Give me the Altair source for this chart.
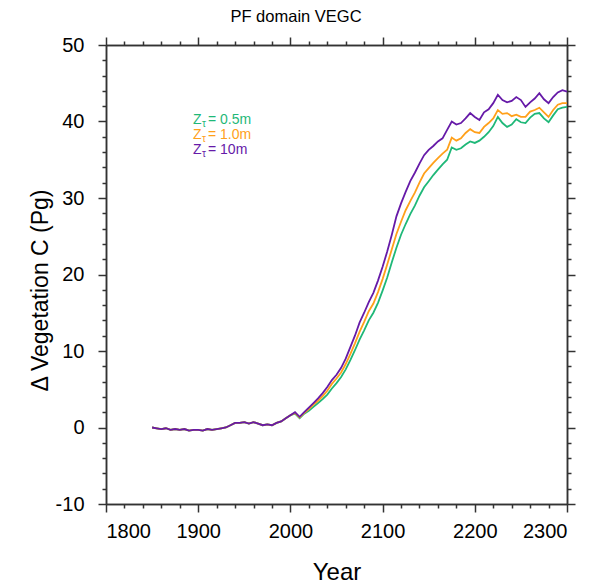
import altair as alt
import pandas as pd

years = list(range(1850, 2301, 5))

# shared pre-2000 segment (all three runs overlap)
early = [0.0, -0.1, -0.2, -0.1, -0.3, -0.2, -0.3, -0.2, -0.4, -0.3,
         -0.3, -0.4, -0.2, -0.3, -0.2, -0.1, 0.0, 0.3, 0.6, 0.6,
         0.7, 0.5, 0.7, 0.5, 0.3, 0.4, 0.3, 0.6, 0.8, 1.2, 1.6]

# 2005 .. 2300
green_late = [1.8, 1.2, 1.8, 2.2, 2.7, 3.2, 3.7, 4.3, 5.1, 5.8,
              6.6, 7.6, 8.8, 10.1, 11.5, 12.7, 14.0, 15.0, 16.3, 17.9,
              19.6, 21.6, 23.5, 25.2, 26.6, 27.9, 29.0, 30.3, 31.4, 32.2,
              33.0, 33.7, 34.4, 35.0, 36.6, 36.3, 36.5, 37.0, 37.4, 37.2,
              37.5, 38.0, 38.6, 39.4, 40.6, 39.8, 39.3, 39.6, 40.3, 39.9,
              39.8, 40.5, 41.0, 41.1, 40.4, 39.9, 40.8, 41.6, 41.8, 41.9]
orange_late = [1.9, 1.3, 1.9, 2.4, 3.0, 3.5, 4.1, 4.8, 5.7, 6.4,
               7.2, 8.3, 9.6, 11.0, 12.5, 13.8, 15.2, 16.2, 17.7, 19.4,
               21.3, 23.3, 25.3, 26.9, 28.4, 29.6, 30.7, 32.0, 33.2, 33.9,
               34.6, 35.2, 35.8, 36.3, 37.9, 37.5, 37.8, 38.5, 39.0, 38.6,
               38.5, 39.3, 39.8, 40.4, 41.5, 41.0, 41.1, 40.7, 40.9, 40.6,
               40.6, 41.3, 41.5, 41.8, 41.2, 40.6, 41.5, 42.2, 42.4, 42.4]
purple_late = [2.0, 1.4, 2.0, 2.6, 3.2, 3.8, 4.5, 5.3, 6.2, 6.9,
               7.8, 9.0, 10.5, 12.0, 13.7, 15.0, 16.4, 17.6, 19.2, 21.0,
               23.0, 25.2, 27.6, 29.3, 30.8, 32.2, 33.3, 34.5, 35.6, 36.3,
               36.8, 37.4, 37.8, 38.9, 40.0, 39.6, 39.8, 40.4, 41.1, 40.6,
               40.2, 41.2, 41.6, 42.4, 43.5, 42.8, 42.5, 42.7, 43.2, 42.8,
               41.9, 42.5, 43.0, 43.7, 42.9, 42.4, 43.2, 43.8, 44.1, 43.9]

series_names = ["0.5m", "1.0m", "10m"]
series_colors = ["#1fb878", "#ffa01a", "#661aa8"]
series_values = [early + green_late, early + orange_late, early + purple_late]

x_major = list(range(1800, 2301, 100))
x_minor = [v for v in range(1800, 2301, 20) if v % 100 != 0]
y_major = list(range(-10, 51, 10))
y_minor = [v for v in range(-10, 51, 2) if v % 10 != 0]

rows = []
for k, (name, vals) in enumerate(zip(series_names, series_values)):
    for yr, v in zip(years, vals):
        rows.append({"year": yr, "vegc": v, "run": name, "order": k})
df = pd.DataFrame(rows)

FONT = "Liberation Sans"
xs = alt.Scale(domain=[1800, 2300], nice=False, zero=False)
ys = alt.Scale(domain=[-10, 50], nice=False, zero=False)
AX = "#333333"

def ax(orient, values, size, labels, title=None, **kw):
    d = dict(orient=orient, values=values, tickSize=size, labels=labels,
             grid=False, domainColor=AX, tickColor=AX, domainWidth=1.5,
             tickWidth=1.5, labelFont=FONT, labelColor="black",
             titleFont=FONT, titleColor="black", titleFontWeight="normal")
    d.update(kw)
    d["title"] = title
    if title is None:
        d["title"] = None
    return alt.Axis(**d)

lines = alt.Chart(df).mark_line(strokeWidth=1.8).encode(
    x=alt.X("year:Q", scale=xs,
            axis=ax("bottom", x_major, 8, True, "Year", labelFontSize=20,
                    labelExpr="'' + datum.value",
                    labelPadding=9, titleFontSize=24, titlePadding=19)),
    y=alt.Y("vegc:Q", scale=ys,
            axis=ax("left", y_major, 8, True, "\u0394 Vegetation C (Pg)",
                    labelExpr="'' + datum.value",
                    labelFontSize=20, labelPadding=14, titleFontSize=23,
                    titleX=-54, titleY=245, titleBaseline="bottom",
                    titleAlign="center", titleAngle=270)),
    color=alt.Color("run:N", scale=alt.Scale(domain=series_names,
                                             range=series_colors),
                    legend=None),
    order="order:Q",
    detail="run:N",
)

def ghost(xo, xv, xsz, yo, yv, ysz):
    return alt.Chart(df).mark_line(strokeOpacity=0).encode(
        x=alt.X("year:Q", scale=xs, axis=ax(xo, xv, xsz, False, domain=True)),
        y=alt.Y("vegc:Q", scale=ys, axis=ax(yo, yv, ysz, False, domain=True)),
        detail="run:N",
    )

g1 = ghost("bottom", x_minor, 4, "left", y_minor, 4)
g2 = ghost("top", x_major, 8, "right", y_major, 8)
g3 = ghost("top", x_minor, 4, "right", y_minor, 4)

leg_df = pd.DataFrame({"run": series_names, "color": series_colors,
                       "row": [0, 1, 2]})
leg_base = alt.Chart(leg_df).encode(
    y=alt.Y("row:Q", scale=alt.Scale(domain=[0, 2], range=[79, 109]), axis=None),
    color=alt.Color("color:N", scale=None),
)
leg_z = leg_base.mark_text(align="left", baseline="alphabetic", font=FONT,
                           fontSize=14, text="Z").encode(x=alt.value(87))
leg_t = leg_base.mark_text(align="left", baseline="alphabetic", font=FONT,
                           fontSize=10, text="\u03c4", dy=3).encode(x=alt.value(96))
leg_v = leg_base.mark_text(align="left", baseline="alphabetic", font=FONT,
                           fontSize=14).encode(
    x=alt.value(102), text=alt.Text("label:N")
).transform_calculate(label="' = ' + datum.run")

title = alt.Chart(leg_df.head(1)).mark_text(
    font=FONT, fontSize=16.5, align="center", baseline="middle", color="black",
    text="PF domain VEGC").encode(x=alt.value(190), y=alt.value(-28))

chart = alt.layer(lines, g1, g2, g3, leg_z, leg_t, leg_v, title).resolve_scale(
    y="independent"
).resolve_axis(x="independent", y="independent").properties(
    width=461, height=459,
    autosize=alt.AutoSizeParams(type="none"),
    padding={"left": 98, "top": 37, "right": 12, "bottom": 82},
).configure_view(stroke=None)

chart.save("out.html", embed_options={"renderer": "svg", "actions": False})
